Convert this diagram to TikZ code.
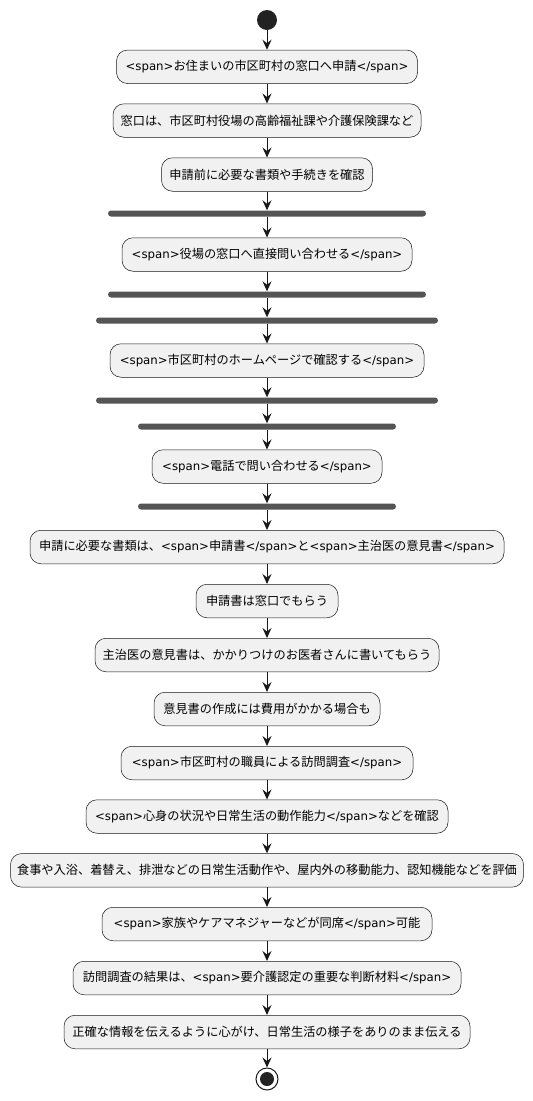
\documentclass[tikz,border=0pt]{standalone}
\usepackage{fontspec}
\setmainfont{Noto Sans CJK JP}
\newfontfamily\latinfont{DejaVu Sans}
\newcommand\spn[1]{{\latinfont\fontsize{11.75}{14}\selectfont #1}}
\usetikzlibrary{arrows.meta}
\definecolor{boxfill}{HTML}{F1F1F1}
\definecolor{linec}{HTML}{181818}
\definecolor{barc}{HTML}{555555}
\definecolor{dotc}{HTML}{222222}
\begin{document}
\begin{tikzpicture}[x=1pt,y=-1pt,
  act/.style={draw=linec, line width=0.5pt, fill=boxfill, rounded corners=11pt,
    minimum height=33.5pt, inner xsep=0pt, inner ysep=0pt, text=black,
    font=\fontsize{12.2}{14}\selectfont},
  syncbar/.style={fill=barc, rounded corners=3pt, minimum height=6pt, inner sep=0pt},
  flow/.style={draw=linec, line width=1pt, -{Stealth[length=10pt,width=9pt,inset=3.5pt]}}]
\useasboundingbox[fill=white] (0,0) rectangle (533,1101);

\node[circle, fill=dotc, minimum size=20pt, inner sep=0pt] (start) at (267,20) {};
\node[act, minimum width=301pt] (b1) at (267,66.75) {\spn{<span>}お住まいの市区町村の窓口へ申請\spn{</span>}};
\node[act, minimum width=308pt] (b2) at (267,120.5) {窓口は、市区町村役場の高齢福祉課や介護保険課など};
\node[act, minimum width=211pt] (b3) at (267,174.5) {申請前に必要な書類や手続きを確認};
\node[syncbar, minimum width=318pt] (bar1) at (267,213.5) {};
\node[act, minimum width=290pt] (b4) at (267,254.5) {\spn{<span>}役場の窓口へ直接問い合わせる\spn{</span>}};
\node[syncbar, minimum width=318pt] (bar2) at (267,294.5) {};
\node[syncbar, minimum width=342pt] (bar3) at (267,320.5) {};
\node[act, minimum width=314pt] (b5) at (267,360.5) {\spn{<span>}市区町村のホームページで確認する\spn{</span>}};
\node[syncbar, minimum width=342pt] (bar4) at (267,400.5) {};
\node[syncbar, minimum width=258pt] (bar5) at (267,426.5) {};
\node[act, minimum width=230pt] (b6) at (267,466.5) {\spn{<span>}電話で問い合わせる\spn{</span>}};
\node[syncbar, minimum width=258pt] (bar6) at (267,506.5) {};
\node[act, minimum width=474pt] (b7) at (267,547) {申請に必要な書類は、\spn{<span>}申請書\spn{</span>}と\spn{<span>}主治医の意見書\spn{</span>}};
\node[act, minimum width=142pt] (b8) at (267,601) {申請書は窓口でもらう};
\node[act, minimum width=344pt] (b9) at (267,655) {主治医の意見書は、かかりつけのお医者さんに書いてもらう};
\node[act, minimum width=226pt] (b10) at (267,709) {意見書の作成には費用がかかる場合も};
\node[act, minimum width=292pt] (b11) at (267,763) {\spn{<span>}市区町村の職員による訪問調査\spn{</span>}};
\node[act, minimum width=362pt] (b12) at (267,816.5) {\spn{<span>}心身の状況や日常生活の動作能力\spn{</span>}などを確認};
\node[act, minimum width=513pt] (b13) at (267,870.3) {食事や入浴、着替え、排泄などの日常生活動作や、屋内外の移動能力、認知機能などを評価};
\node[act, minimum width=330pt] (b14) at (267,924) {\spn{<span>}家族やケアマネジャーなどが同席\spn{</span>}可能};
\node[act, minimum width=388pt] (b15) at (267,978) {訪問調査の結果は、\spn{<span>}要介護認定の重要な判断材料\spn{</span>}};
\node[act, minimum width=406pt] (b16) at (267,1032) {正確な情報を伝えるように心がけ、日常生活の様子をありのまま伝える};
\node[circle, draw=linec, line width=1pt, fill=white, minimum size=22pt, inner sep=0pt] (stop) at (267,1079) {};
\fill[dotc] (stop.center) circle (7pt);

\draw[flow] (start) -- (b1);
\draw[flow] (b1) -- (b2);
\draw[flow] (b2) -- (b3);
\draw[flow] (b3) -- (bar1);
\draw[flow] (bar1) -- (b4);
\draw[flow] (b4) -- (bar2);
\draw[flow] (bar2) -- (bar3);
\draw[flow] (bar3) -- (b5);
\draw[flow] (b5) -- (bar4);
\draw[flow] (bar4) -- (bar5);
\draw[flow] (bar5) -- (b6);
\draw[flow] (b6) -- (bar6);
\draw[flow] (bar6) -- (b7);
\draw[flow] (b7) -- (b8);
\draw[flow] (b8) -- (b9);
\draw[flow] (b9) -- (b10);
\draw[flow] (b10) -- (b11);
\draw[flow] (b11) -- (b12);
\draw[flow] (b12) -- (b13);
\draw[flow] (b13) -- (b14);
\draw[flow] (b14) -- (b15);
\draw[flow] (b15) -- (b16);
\draw[flow] (b16) -- (stop);
\end{tikzpicture}
\end{document}
